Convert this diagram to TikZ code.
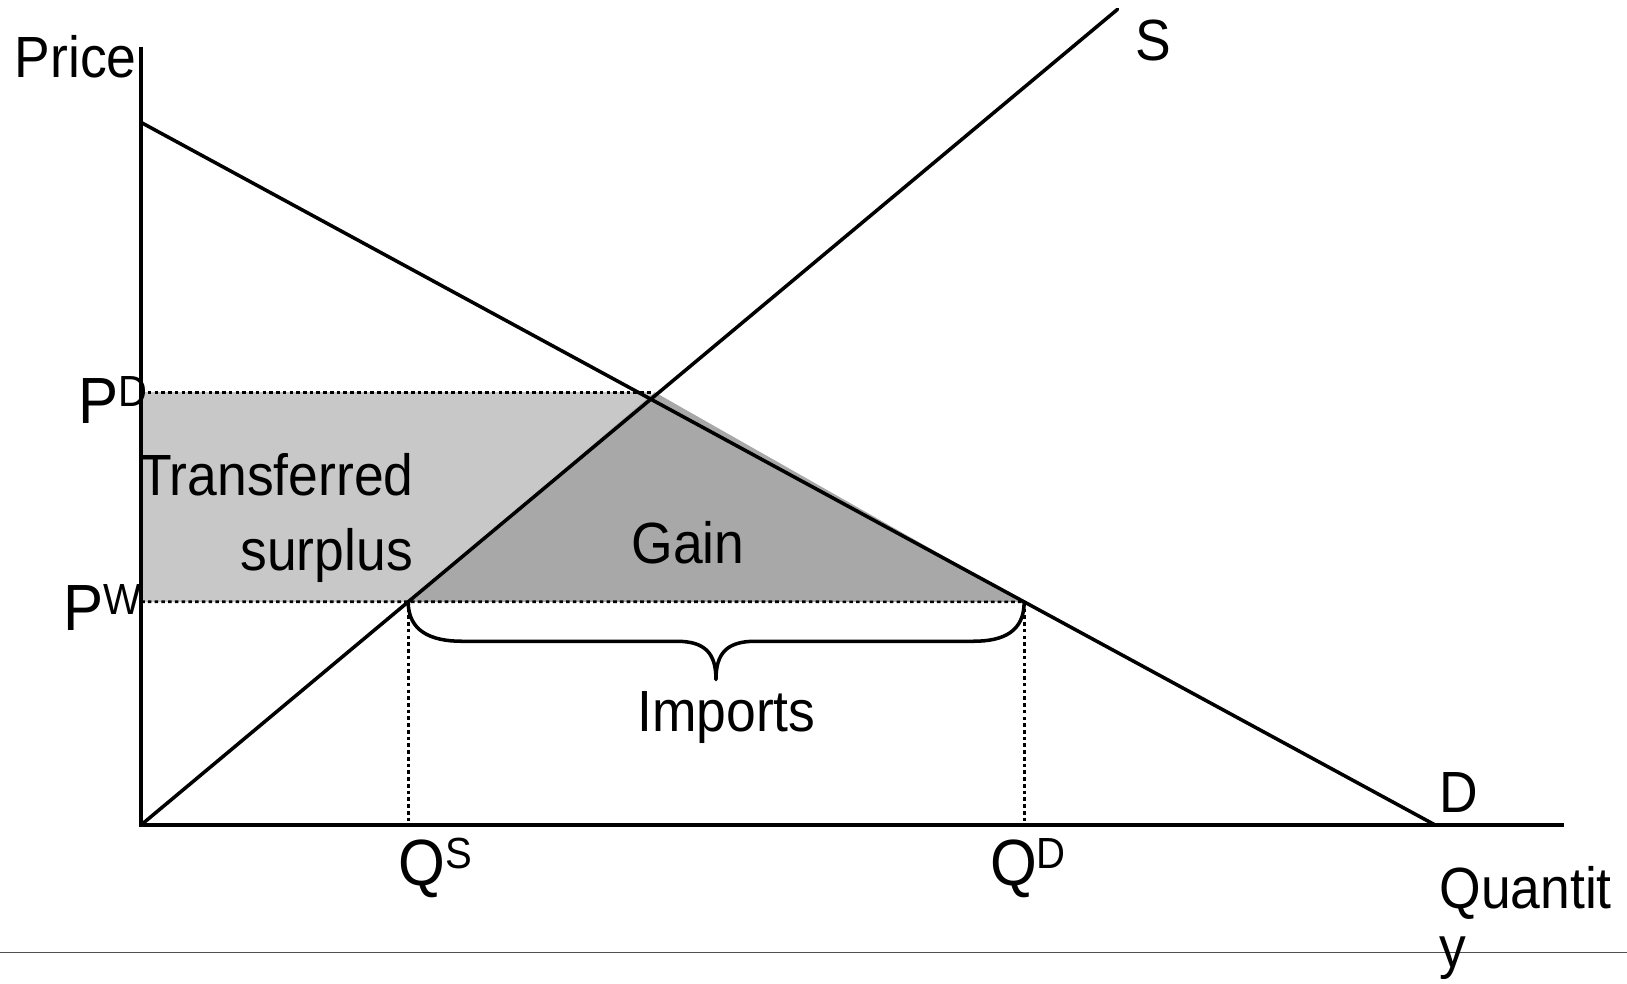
\documentclass[tikz,border=0pt]{standalone}
\usepackage{fontspec}
\setmainfont{Liberation Sans}[FakeStretch=0.92]
\newcommand{\mysup}[1]{\raisebox{16pt}{\fontsize{42}{48}\selectfont #1}}
\begin{document}
\begin{tikzpicture}[x=1pt,y=-1pt,
  curve/.style={line width=3.4pt,line cap=round},
  axis/.style={line width=3.4pt},
  dotline/.style={line width=2.6pt,dash pattern=on 3.5pt off 3pt},
  lab/.style={inner sep=0pt,font=\fontsize{56}{66}\selectfont},
  biglab/.style={inner sep=0pt,font=\fontsize{63}{72}\selectfont}]
\useasboundingbox (0,0) rectangle (1568,948);
% key points
\coordinate (O) at (136,795);
\coordinate (Ytop) at (136,45);
\coordinate (Xend) at (1507,795);
\coordinate (Dtop) at (136,118);
\coordinate (Dend) at (1383,795);
\coordinate (Stop) at (1077,9);
\coordinate (PDl) at (136,378);
\coordinate (PWl) at (136,580);
\coordinate (PWfar) at (1300,580);
\coordinate (QSpt) at (intersection of O--Stop and PWl--PWfar);
\coordinate (QDpt) at (intersection of Dtop--Dend and PWl--PWfar);
\coordinate (PDr) at (627,378);
\coordinate (Apex) at (631,378);
\coordinate (QSax) at (QSpt |- O);
\coordinate (QDax) at (QDpt |- O);
% fills
\fill[fill={rgb,255:red,200;green,200;blue,200}] (PDl) rectangle (PDr |- PWl);
\fill[fill={rgb,255:red,168;green,168;blue,168}] (QSpt) -- (Apex) -- (QDpt) -- cycle;
% dotted guides
\draw[dotline] (PDl) -- (PDr);
\draw[dotline] (PWl) -- (QDpt);
\draw[dotline] (QSpt) -- (QSax);
\draw[dotline] (QDpt) -- (QDax);
% curves
\draw[curve] (Dtop) -- (Dend);
\draw[curve] (O) -- (Stop);
% axes
\draw[axis] (Ytop) -- (O) -- (Xend);
% brace
\draw[line width=3.4pt,line join=round] (QSpt) .. controls +(0,28) and +(-30,0) .. (445,618) -- (652,618)
  .. controls +(28,0) and +(0,-25) .. (690,655)
  .. controls +(0,-25) and +(-28,0) .. (728,618) -- (938,618)
  .. controls +(30,0) and +(0,28) .. (QDpt);
% bottom rule
\draw[line width=1.2pt,color={rgb,255:red,80;green,80;blue,80}] (0,918) -- (1568,918);
% labels
\node[lab,anchor=base west] (price) at (14,75) {Price};
\node[biglab,anchor=base west] (pd) at (75,408) {P\mysup{D}};
\node[biglab,anchor=base west] (pw) at (61,608) {P\mysup{W}};
\node[lab,anchor=base west] (tr) at (134,478) {Transferred};
\node[lab,anchor=base east] (su) at (398,550) {surplus};
\node[lab,anchor=base] (gain) at (663,543) {Gain};
\node[lab,anchor=base] (imp) at (700,705) {Imports};
\node[biglab,anchor=base west] (qs) at (384,853) {Q\mysup{S}};
\node[biglab,anchor=base west] (qd) at (954,853) {Q\mysup{D}};
\node[lab,anchor=base west] (slab) at (1094,58) {S};
\node[lab,anchor=base west] (dlab) at (1387,783) {D};
\node[lab,anchor=base west] (qty1) at (1387,876) {Quantit};
\node[lab,anchor=base west] (qty2) at (1387,932) {y};
\end{tikzpicture}
\end{document}
